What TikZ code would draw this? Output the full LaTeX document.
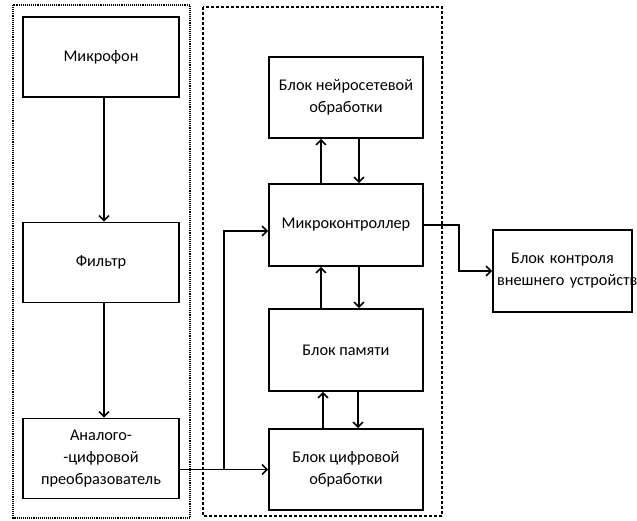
\documentclass[tikz,border=0pt]{standalone}
\usepackage{fontspec}
\setmainfont{Carlito}
\usetikzlibrary{arrows.meta}

\begin{document}
\begin{tikzpicture}[x=1pt, y=-1pt, line width=1.6pt,
  block/.style={draw, align=center, font=\fontsize{16.3}{22}\selectfont},
  leftblock/.style={block, minimum width=156pt, minimum height=80pt},
  rightblock/.style={block, minimum width=154pt, minimum height=81pt},
  arr/.style={-{Straight Barb[length=5pt,width=10pt]}}]
\useasboundingbox (0,0) rectangle (637,521);
%\draw[step=10pt,gray,very thin] (0,0) grid (637,521);
% frames
\draw[densely dotted, line width=1.1pt] (13,5) rectangle (190,518);%%
\draw[dash pattern=on 3pt off 2pt, line width=1.1pt] (203,7) rectangle (442,516);%%
% left column
\node[leftblock] (mic) at (101,57) {Микрофон};%%
\node[leftblock] (filt) at (101,262.5) {Фильтр};%%
\node[leftblock] (adc) at (101,458.5) {Аналого-\\-цифровой\\преобразователь};%%
% right column
\node[rightblock] (neuro) at (346,97.5) {Блок нейросетевой\\обработки};%%
\node[rightblock, minimum height=82pt] (mcu) at (346,225) {Микроконтроллер};%%
\node[rightblock, minimum height=82pt] (mem) at (346,350) {Блок памяти};%%
\node[rightblock] (dsp) at (346,469.5) {Блок цифровой\\обработки};%%
\node[block, text width=131pt, inner xsep=4pt, minimum height=82pt] (ext) at (562.5,271) {Блок контроля\\\mbox{внешнего устройства}};%%
% connectors
\draw[arr] ([xshift=3pt]mic.south) -- ([xshift=3pt]filt.north);%%
\draw[arr] ([xshift=3pt]filt.south) -- ([xshift=3pt]adc.north);%%
\draw[arr] ([xshift=-25pt]mcu.north) -- ([xshift=-25pt]neuro.south);%%
\draw[arr] ([xshift=13pt]neuro.south) -- ([xshift=13pt]mcu.north);%%
\draw[arr] ([xshift=-25pt]mem.north) -- ([xshift=-25pt]mcu.south);%%
\draw[arr] ([xshift=13pt]mcu.south) -- ([xshift=13pt]mem.north);%%
\draw[arr] ([xshift=-23pt]dsp.north) -- ([xshift=-23pt]mem.south);%%
\draw[arr] ([xshift=12pt]mem.south) -- ([xshift=12pt]dsp.north);%%
\coordinate (split) at (224,469.5);
\draw[arr] (adc.east |- dsp.west) -- (dsp.west);%%
\draw[arr] (split) |- ([yshift=-6pt]mcu.west);%%
\draw[arr] (mcu.east) -- ++(35,0) |- (ext.west);%%
\end{tikzpicture}
\end{document}
